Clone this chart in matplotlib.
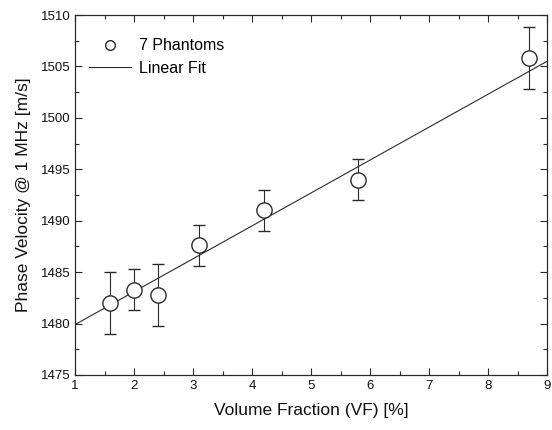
import numpy as np
import matplotlib
matplotlib.use('Agg')
import matplotlib.pyplot as plt
from matplotlib.ticker import MultipleLocator
from matplotlib.lines import Line2D

plt.rcParams['font.family'] = ['Liberation Sans', 'DejaVu Sans']

# 7 phantoms: volume fraction [%] vs phase velocity [m/s]
vf = [1.6, 2.0, 2.4, 3.1, 4.2, 5.8, 8.7]
velocity = [1482.0, 1483.3, 1482.8, 1487.6, 1491.0, 1494.0, 1505.8]
err = [3.0, 2.0, 3.0, 2.0, 2.0, 2.0, 3.0]

# linear fit line
fit_x = [1.0, 9.0]
fit_y = [1479.9, 1505.5]

ink = '#2a2a2a'

fig = plt.figure(figsize=(5.52, 4.30), dpi=100)
ax = fig.add_axes([0.136, 0.128, 0.855, 0.837])

ax.plot(fit_x, fit_y, '-', color=ink, lw=0.8, zorder=2)
ax.errorbar(vf, velocity, yerr=err, fmt='o', ms=11, mfc='white', mec=ink,
            mew=1.0, ecolor=ink, elinewidth=0.8, capsize=4.5, capthick=0.8,
            zorder=3)

ax.set_xlim(1, 9)
ax.set_ylim(1475, 1510)
ax.xaxis.set_major_locator(MultipleLocator(1))
ax.xaxis.set_minor_locator(MultipleLocator(0.5))
ax.yaxis.set_major_locator(MultipleLocator(5))
ax.yaxis.set_minor_locator(MultipleLocator(2.5))
ax.tick_params(which='both', direction='in', top=True, right=True,
               color=ink, labelsize=9.5, labelcolor='#111111')
ax.tick_params(which='major', length=5, width=0.8)
ax.tick_params(which='minor', length=3, width=0.8)
for s in ax.spines.values():
    s.set_color(ink)
    s.set_linewidth(0.9)

ax.set_xlabel('Volume Fraction (VF) [%]', fontsize=12.5, color='#111111', labelpad=8)
ax.set_ylabel('Phase Velocity @ 1 MHz [m/s]', fontsize=12.5, color='#111111', labelpad=7)

# legend: plain circle and plain line
h_pts = Line2D([], [], ls='none', marker='o', ms=7, mfc='white', mec=ink, mew=1.0)
h_fit = Line2D([], [], ls='-', color=ink, lw=0.8)
ax.legend([h_pts, h_fit], ['7 Phantoms', 'Linear Fit'], loc='upper left',
          frameon=False, fontsize=11.5, handlelength=2.6, handletextpad=0.5,
          bbox_to_anchor=(0.0, 0.975), labelspacing=0.45)

fig.savefig('out.png', dpi=100)
